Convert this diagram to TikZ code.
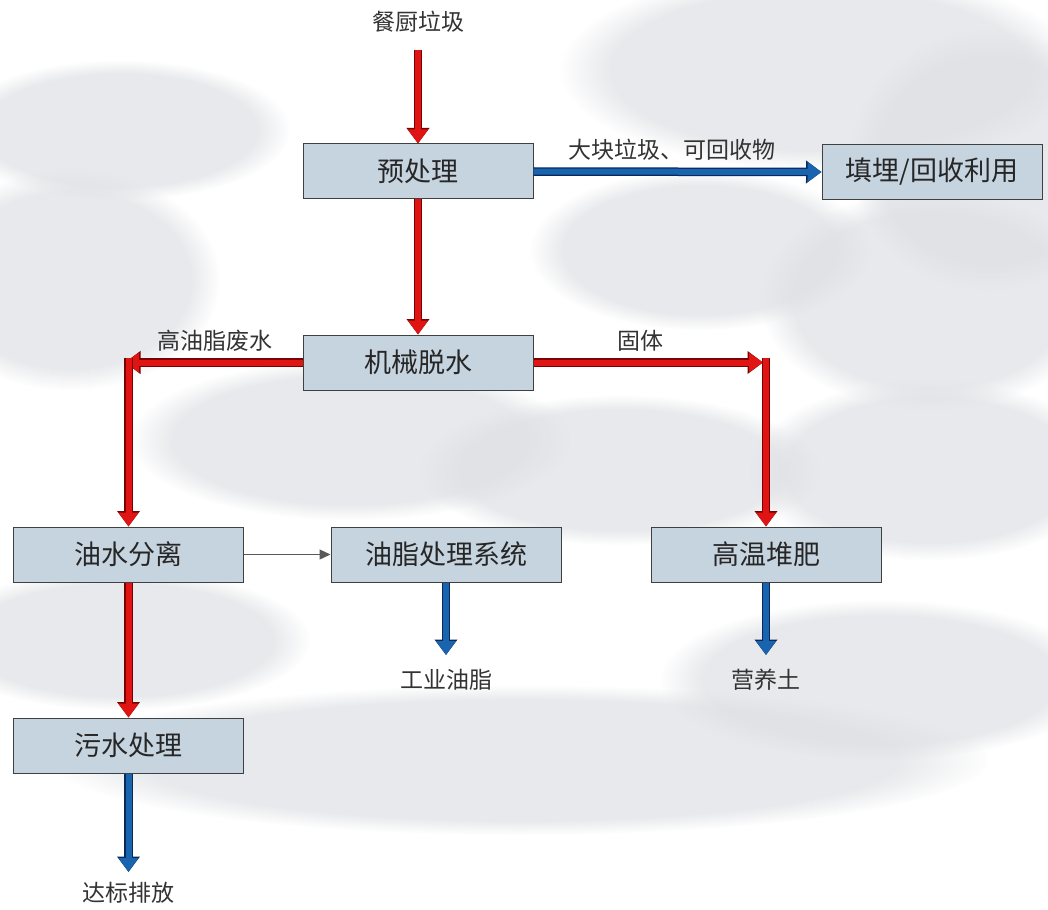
\documentclass[tikz,border=0pt]{standalone}
\usepackage{fontspec}
\newfontfamily\cjk{Noto Sans CJK SC}
\usetikzlibrary{arrows.meta,fadings}
\definecolor{boxfill}{RGB}{198,212,223}
\definecolor{redA}{RGB}{225,20,20}
\definecolor{redB}{RGB}{120,0,0}
\definecolor{blueA}{RGB}{25,100,175}
\definecolor{blueB}{RGB}{10,40,90}
\definecolor{cloud}{RGB}{222,224,228}
\begin{document}
\begin{tikzpicture}[x=1pt,y=-1pt,
  box/.style={draw=black!75, line width=1pt, fill=boxfill, minimum width=230pt, minimum height=55pt, inner sep=0pt, font=\cjk\fontsize{27}{30}\selectfont, text=black!85},
  lbl/.style={font=\cjk\fontsize{23}{26}\selectfont, text=black!80, inner sep=0pt},
  redarrow/.style={line width=6pt, draw=redA, -{Triangle[length=14pt,width=19pt]}, preaction={draw=redB, line width=8.5pt, -{Triangle[length=15.5pt,width=22pt]}}},
  bluearrow/.style={line width=6pt, draw=blueA, -{Triangle[length=14pt,width=19pt]}, preaction={draw=blueB, line width=8.5pt, -{Triangle[length=15.5pt,width=22pt]}}},
  thinarrow/.style={line width=1.3pt, draw=black!65, -{Triangle[length=11pt,width=10pt]}},
  cloudshape/.style={fill=cloud, draw=none, opacity=0.7, path fading=circle with fuzzy edge 20 percent}
]
\useasboundingbox (0,0) rectangle (1048,909);
\fill[white] (0,0) rectangle (1048,909);
% background clouds
\begin{scope}
\fill[cloudshape] (820,70) ellipse (260 and 100);
\fill[cloudshape] (990,160) ellipse (140 and 130);
\fill[cloudshape] (930,300) ellipse (170 and 110);
\fill[cloudshape] (700,250) ellipse (170 and 80);
\fill[cloudshape] (120,130) ellipse (170 and 70);
\fill[cloudshape] (70,280) ellipse (150 and 110);
\fill[cloudshape] (350,440) ellipse (220 and 80);
\fill[cloudshape] (620,470) ellipse (200 and 75);
\fill[cloudshape] (930,470) ellipse (180 and 90);
\fill[cloudshape] (120,640) ellipse (190 and 70);
\fill[cloudshape] (520,760) ellipse (470 and 75);
\fill[cloudshape] (880,680) ellipse (220 and 80);
\end{scope}
% nodes
\node[lbl] (src) at (418,22) {餐厨垃圾};
\node[box] (pre) at (418,171.5) {预处理};
\node[box, minimum width=220pt] (fill) at (932,172) {填埋/回收利用};
\node[box] (mech) at (418,362.5) {机械脱水};
\node[box] (oil) at (128.5,554.5) {油水分离};
\node[box] (grease) at (446,554.5) {油脂处理系统};
\node[box] (comp) at (766,554.5) {高温堆肥};
\node[box] (sew) at (128.5,745.5) {污水处理};
\node[lbl] (lbig) at (672,150) {大块垃圾、可回收物};
\node[lbl] (lfat) at (215,341) {高油脂废水};
\node[lbl] (lsol) at (640,341) {固体};
\node[lbl] (ind) at (446,680) {工业油脂};
\node[lbl] (soil) at (766,680) {营养土};
\node[lbl] (dis) at (128.5,893) {达标排放};
\coordinate (src0) at (418,50);
\coordinate (cl) at (125,362.5);
\coordinate (cl2) at (128.5,358);
\coordinate (cr) at (763,362.5);
\coordinate (cr2) at (766,358);
\coordinate (g1) at (446,655);
\coordinate (s1) at (766,655);
\coordinate (d1) at (128.5,872);
% connectors
\draw[redarrow] (src0) -- (pre.north);
\draw[redarrow] (pre.south) -- (mech.north);
\draw[bluearrow] (pre.east) -- (fill.west);
\draw[redarrow] (mech.west) -- (cl);
\draw[redarrow] (cl2) -- (oil.north);
\draw[redarrow] (mech.east) -- (cr);
\draw[redarrow] (cr2) -- (comp.north);
\draw[redarrow] (oil.south) -- (sew.north);
\draw[thinarrow] (oil.east) -- (grease.west);
\draw[bluearrow] (grease.south) -- (g1);
\draw[bluearrow] (comp.south) -- (s1);
\draw[bluearrow] (sew.south) -- (d1);
\end{tikzpicture}
\end{document}
